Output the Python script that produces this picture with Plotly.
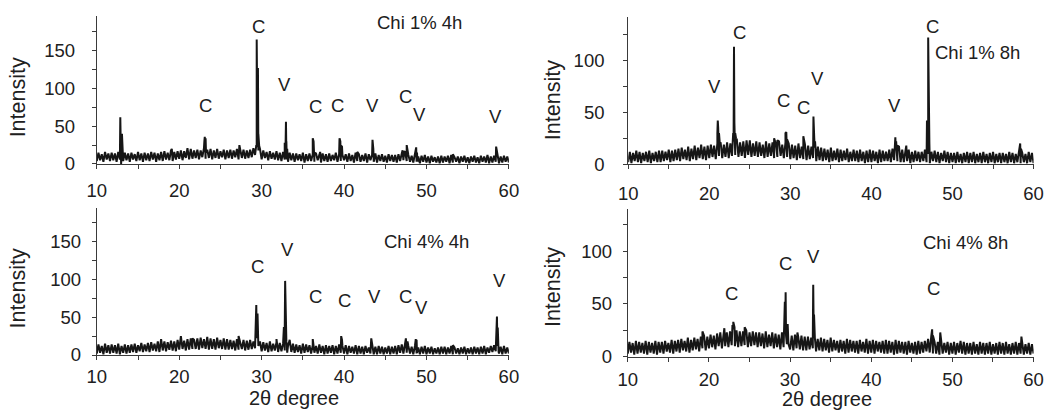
import numpy as np
import plotly.graph_objects as go

# ---------------- data ----------------
two_theta = [round(10 + 0.2 * i, 2) for i in range(251)]

base_1pct_4h = [
    4,15,5,13,3,16,6,14,4,15, 5,14,3,16,6,13,4,15,5,14, 3,15,6,13,4,16,5,14,3,15,
    5,14,4,16,6,15,3,14,5,16, 4,17,6,15,5,18,4,16,6,17, 7,18,5,17,8,19,6,20,7,18,
    8,19,6,18,9,21,7,19,8,20, 6,18,8,20,7,17,9,19,6,18, 8,19,7,18,9,20,6,17,8,19,
    7,18,8,19,9,21,12,24,18,20, 6,18,8,16,5,17,7,15,6,17, 5,15,4,16,6,14,3,15,5,14,
    3,14,5,13,4,15,2,13,4,14, 4,13,3,14,5,12,2,14,4,13, 3,14,4,12,5,15,3,13,4,12,
    5,13,3,14,4,12,2,15,4,13, 3,12,4,14,2,13,5,12,3,14, 2,12,4,13,3,11,2,13,4,12,
    3,12,2,13,4,14,5,16,4,12, 3,11,2,12,3,10,1,11,3,12, 2,10,1,11,3,9,2,10,1,11,
    2,10,3,11,1,12,2,9,3,10, 1,10,3,11,2,9,1,10,3,11, 2,9,1,11,3,10,2,12,1,10,
    2,11,3,12,1,10,2,11,3,10, 2]
peak_x_1pct_4h = [12.8,12.85,12.9,12.95,13.05,13.1,13.15, 19.1, 21.0, 23.05,23.1,23.2,23.25, 27.3,
                  29.35,29.4,29.45,29.5,29.55,29.6,29.7, 32.8,32.9,32.95,33.0,33.05,33.1,
                  36.2,36.3,36.4, 37.1, 39.45,39.55,39.65,39.75, 41.6, 43.45,43.55,
                  47.1,47.3,47.6,47.7, 48.75,48.85,48.9, 53.2, 58.45,58.55]
peak_y_1pct_4h = [34,62,30,0,40,28,10, 20, 21, 30,36,34,15, 25,
                  25,165,60,22,127,40,24, 28,22,56,30,6,20,
                  34,30,15, 16, 34,30,24,23, 16, 32,20,
                  18,17,25,15, 22,15,3, 13, 23,18]

base_1pct_8h = [
    2,12,1,11,3,13,2,12,1,11, 3,12,2,13,1,11,3,12,2,13, 2,13,3,12,4,14,2,13,3,14,
    4,15,3,16,5,14,4,17,3,15, 5,18,4,16,6,19,5,17,4,18, 6,19,7,18,5,20,8,21,6,19,
    7,21,6,20,8,22,9,24,7,21, 8,22,6,21,9,23,7,20,8,22, 7,21,8,19,6,22,7,20,8,21,
    6,20,7,22,8,19,6,21,7,20, 5,19,6,18,4,20,6,17,5,19, 4,18,5,17,6,16,3,17,4,16,
    3,15,4,14,2,16,3,13,4,15, 2,14,3,13,4,15,2,12,3,14, 3,13,2,14,3,12,1,13,2,14,
    2,13,3,12,1,14,2,13,3,12, 3,14,2,15,4,16,3,17,2,14, 2,13,3,14,1,12,2,13,3,12,
    2,12,3,14,2,13,1,12,3,13, 2,12,1,11,3,13,2,12,1,11, 2,11,1,12,2,10,1,11,2,12,
    1,11,2,12,1,10,2,11,1,12, 2,10,1,11,2,12,1,10,2,11, 1,11,2,10,1,12,2,11,1,10,
    2,12,1,11,2,10,1,12,2,11, 1]
peak_x_1pct_8h = [21.0,21.05,21.1,21.2,21.3, 22.95,23.05,23.1,23.2,23.3, 24.6, 28.0, 28.4,
                  29.4,29.5,29.6, 31.6, 32.85,32.95,33.05, 42.85,42.95,43.05,43.2, 44.3,
                  46.85,46.95,47.0,47.05,47.1,47.15, 58.35,58.45]
peak_y_1pct_8h = [30,42,35,30,20, 30,113,40,30,25, 23, 25, 23,
                  30,31,24, 27, 46,25,22, 22,26,22,18, 18,
                  42,10,122,60,68,20, 20,15]

base_4pct_4h = [
    2,14,3,12,1,15,3,13,2,14, 3,13,2,15,1,12,3,14,2,13, 3,14,4,15,3,13,5,16,4,14,
    5,16,4,17,6,15,5,18,4,16, 6,18,5,17,7,19,6,18,5,20, 7,20,8,19,6,21,7,22,8,20,
    8,22,7,23,9,21,8,24,7,22, 8,21,7,23,9,20,8,22,7,21, 7,20,8,19,6,21,7,18,8,20,
    6,19,7,20,8,18,9,22,12,18, 5,17,6,16,4,18,5,15,6,17, 4,16,5,15,6,18,12,20,4,15,
    3,14,4,13,2,15,3,14,4,13, 2,13,3,12,2,14,3,12,1,13, 2,12,3,13,1,12,2,14,3,12,
    2,13,1,12,3,11,2,13,1,12, 2,11,1,12,3,10,2,12,1,11, 1,12,2,11,1,10,2,12,1,11,
    2,12,1,13,3,14,2,15,3,12, 2,11,1,12,2,10,1,11,2,12, 1,10,2,11,1,9,2,10,1,11,
    2,11,1,10,2,12,1,10,2,9, 1,10,2,11,1,9,2,10,1,11, 2,10,1,11,2,12,1,10,3,12,
    4,13,5,12,2,11,1,12,2,10, 2]
peak_x_4pct_4h = [17.8, 20.2, 21.6, 23.4, 27.2, 29.35,29.4,29.5,29.55, 31.8,
                  32.7,32.8,32.85,32.9,32.95,33.05,33.1, 36.2, 39.65,39.75, 43.3,
                  47.5,47.7, 48.7,48.8,48.85, 53.2, 58.5,58.55,58.6,58.65,58.75]
peak_y_4pct_4h = [21, 25, 22, 24, 25, 66,30,55,20, 21,
                  37,30,98,40,60,14,3, 21, 25,20, 22,
                  22,18, 21,20,3, 13, 35,51,35,35,4]

base_4pct_8h = [
    3,14,4,13,2,15,3,14,4,13, 3,15,2,14,4,13,3,15,2,14, 4,14,3,15,5,13,4,16,3,15,
    5,16,4,17,6,15,5,18,4,16, 6,18,7,17,5,19,8,20,6,19, 8,21,9,20,7,22,10,23,8,21,
    10,23,9,24,11,26,10,25,9,24, 10,24,11,25,9,23,10,24,11,23, 9,23,10,22,8,24,9,21,10,23,
    8,22,9,21,7,23,9,22,12,20, 7,20,6,21,8,19,7,20,6,19, 6,19,7,18,8,20,5,17,6,18,
    5,17,6,16,4,18,5,16,6,15, 4,16,5,15,3,17,4,16,5,15, 4,15,3,16,5,14,4,17,3,15,
    4,16,3,15,5,14,4,15,3,16, 3,15,4,14,2,16,3,15,4,14, 3,14,2,15,4,13,3,14,2,15,
    3,14,4,15,5,17,4,15,3,14, 3,14,2,15,3,13,4,14,2,13, 3,14,2,13,4,15,3,14,2,13,
    3,13,2,14,3,12,2,14,3,13, 2,13,3,14,2,12,3,13,2,14, 3,13,2,14,3,12,2,13,3,14,
    2,13,3,14,2,12,3,13,2,12, 3]
peak_x_4pct_8h = [19.2, 21.9, 22.9,23.0,23.15, 24.4, 29.35,29.45,29.5,29.7,29.8, 30.9,
                  32.8,32.85,32.9,32.95,33.05, 47.4,47.5,47.6, 48.5, 58.5]
peak_y_4pct_8h = [24, 27, 30,33,28, 28, 52,61,20,31,12, 23,
                  20,68,30,40,18, 20,26,20, 23, 19]

panel_titles = ["Chi 1% 4h", "Chi 1% 8h", "Chi 4% 4h", "Chi 4% 8h"]
x_ticks = [10, 20, 30, 40, 50, 60]

# phase labels: (x, y, text)
labels_1pct_4h = [(23.2, 78, "C"), (29.6, 182, "C"), (32.8, 105, "V"), (36.5, 76, "C"),
                  (39.2, 78, "C"), (43.4, 78, "V"), (47.4, 89, "C"), (49.1, 65, "V"),
                  (58.4, 63, "V")]
labels_1pct_8h = [(20.6, 75, "V"), (23.7, 127, "C"), (29.2, 61, "C"), (31.6, 55, "C"),
                  (33.4, 83, "V"), (42.9, 57, "V"), (47.5, 133, "C")]
labels_4pct_4h = [(29.5, 117, "C"), (33.1, 139, "V"), (36.5, 77, "C"), (40.0, 72, "C"),
                  (43.7, 77, "V"), (47.4, 77, "C"), (49.35, 63, "V"), (58.8, 98, "V")]
labels_4pct_8h = [(22.8, 60, "C"), (29.45, 88, "C"), (32.9, 95, "V"), (47.7, 65, "C")]
title_pos = [(49.1, 188), (53.1, 108), (50.0, 150), (51.6, 108)]

# ---------------- layout ----------------
panels = [
    dict(base=base_1pct_4h, px=peak_x_1pct_4h, py=peak_y_1pct_4h, labels=labels_1pct_4h,
         xd=[0.0842, 0.4839], yd=[0.5981, 0.9608], yr=[0, 196], ticks=[0, 50, 100, 150],
         xs_off=6, ys_off=13),
    dict(base=base_1pct_8h, px=peak_x_1pct_8h, py=peak_y_1pct_8h, labels=labels_1pct_8h,
         xd=[0.5996, 0.9928], yd=[0.5974, 0.9591], yr=[0, 142], ticks=[0, 50, 100],
         xs_off=9, ys_off=15),
    dict(base=base_4pct_4h, px=peak_x_4pct_4h, py=peak_y_4pct_4h, labels=labels_4pct_4h,
         xd=[0.0842, 0.4839], yd=[0.1299, 0.4895], yr=[0, 194], ticks=[0, 50, 100, 150],
         xs_off=1, ys_off=7),
    dict(base=base_4pct_8h, px=peak_x_4pct_8h, py=peak_y_4pct_8h, labels=labels_4pct_8h,
         xd=[0.5992, 0.9928], yd=[0.1256, 0.4871], yr=[0, 139.5], ticks=[0, 50, 100],
         xs_off=2, ys_off=7),
]

FONT = "Liberation Sans, Arial, sans-serif"
LINE = "#161616"
AX = "#3a3a3a"
TXT = "#202020"
FS = 18.5

fig = go.Figure()
layout = dict(width=1051, height=418, margin=dict(l=0, r=0, t=0, b=0),
              paper_bgcolor="white", plot_bgcolor="white", showlegend=False,
              font=dict(family=FONT, color=TXT, size=FS))
annotations = []

for i, p in enumerate(panels):
    n = i + 1
    xs = list(two_theta) + list(p["px"])
    ys = list(p["base"]) + list(p["py"])
    order = np.argsort(xs, kind="stable")
    xs = [xs[k] for k in order]
    ys = [ys[k] for k in order]
    xa = "x" if n == 1 else f"x{n}"
    ya = "y" if n == 1 else f"y{n}"
    fig.add_trace(go.Scatter(x=xs, y=ys, mode="lines", xaxis=xa, yaxis=ya,
                             line=dict(color=LINE, width=2.0), hoverinfo="skip"))
    layout[f"xaxis{'' if n == 1 else n}"] = dict(
        domain=p["xd"], anchor=ya, range=[10, 60], tickvals=x_ticks,
        showline=True, linecolor=AX, linewidth=1, ticks="outside", ticklen=4,
        tickcolor=AX, showgrid=False, zeroline=False, ticklabelstandoff=p["xs_off"],
        minor=dict(dtick=5, tick0=10, ticks="outside", ticklen=4, tickcolor=AX),
        tickfont=dict(size=FS, color=TXT))
    layout[f"yaxis{'' if n == 1 else n}"] = dict(
        domain=p["yd"], anchor=xa, range=p["yr"], tickvals=p["ticks"],
        showline=True, linecolor=AX, linewidth=1, ticks="outside", ticklen=4,
        tickcolor=AX, showgrid=False, zeroline=False, ticklabelstandoff=p["ys_off"],
        minor=dict(dtick=25, tick0=0, ticks="outside", ticklen=4, tickcolor=AX),
        tickfont=dict(size=FS, color=TXT))
    for (lx, ly, t) in p["labels"]:
        annotations.append(dict(x=lx, y=ly, xref=xa, yref=ya, text=t, showarrow=False,
                                font=dict(size=FS, color=TXT), xanchor="center",
                                yanchor="middle"))
    tx, ty = title_pos[i]
    annotations.append(dict(x=tx, y=ty, xref=xa, yref=ya, text=panel_titles[i],
                            showarrow=False, font=dict(size=FS, color=TXT),
                            xanchor="center", yanchor="middle"))

# axis titles
for (ax_x, ax_y) in [(0.0081, 0.7622), (0.5268, 0.7548), (0.0081, 0.294), (0.5268, 0.2967)]:
    annotations.append(dict(x=ax_x, y=ax_y, xref="paper", yref="paper", text="Intensity",
                            textangle=-90, showarrow=False, font=dict(size=21.5, color=TXT),
                            xanchor="center", yanchor="middle"))
for (ax_x, ax_y) in [(0.2753, 0.0235), (0.792, 0.0225)]:
    annotations.append(dict(x=ax_x, y=ax_y, xref="paper", yref="paper", text="2θ degree",
                            showarrow=False, font=dict(size=20, color=TXT),
                            xanchor="center", yanchor="middle"))

layout["annotations"] = annotations
fig.update_layout(**layout)
fig.write_html("out.html", config={"displayModeBar": False},
               post_script="document.body.style.margin='0';document.body.style.overflow='hidden';")
